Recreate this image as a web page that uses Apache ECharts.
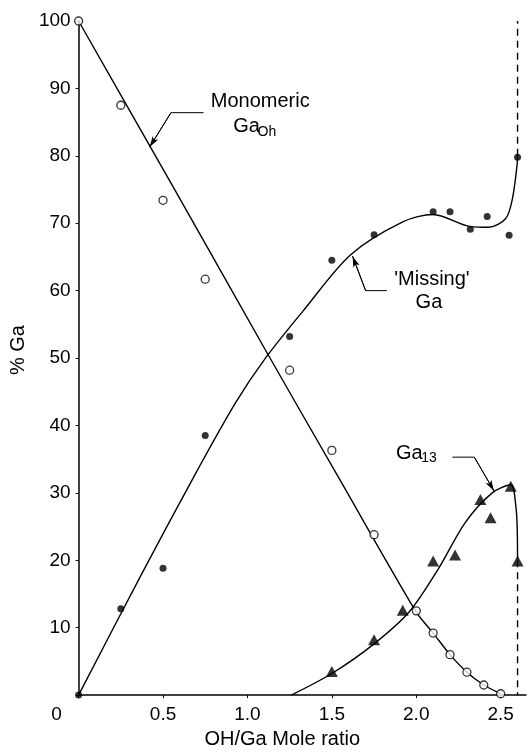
<!DOCTYPE html>
<html><head><meta charset="utf-8">
<script src="https://cdn.jsdelivr.net/npm/echarts@6/dist/echarts.min.js"></script>
<style>html,body{margin:0;padding:0;background:#fff}#c{width:528px;height:754px}</style>
</head><body><div id="c"></div>
<script>
// ---- data ----
const xTickValues = [0, 0.5, 1.0, 1.5, 2.0, 2.5];
const yTickValues = [10, 20, 30, 40, 50, 60, 70, 80, 90, 100];

// open circles: monomeric Ga(Oh)
const monomericPoints = [[0,100],[0.25,87.5],[0.5,73.4],[0.75,61.7],[1.25,48.2],[1.5,36.3],[1.75,23.8],[2.0,12.5],[2.1,9.2],[2.2,6.0],[2.3,3.4],[2.4,1.5],[2.5,0.2]];
// filled circles: 'missing' Ga
const missingPoints = [[0,0],[0.25,12.8],[0.5,18.8],[0.75,38.5],[1.25,53.2],[1.5,64.5],[1.75,68.3],[2.1,71.7],[2.2,71.7],[2.32,69.1],[2.42,71.0],[2.55,68.2],[2.6,79.8]];
// filled triangles: Ga13
const ga13Points = [[1.5,3.5],[1.75,8.2],[1.92,12.6],[2.1,19.9],[2.23,20.8],[2.38,29.0],[2.44,26.3],[2.56,31.0],[2.6,19.9]];

// drawn curves (read along the lines of the figure)
const monomericCurve = [[0,100],[0.56,75.4],[1.12,50.6],[1.56,31.4],[2.0,12.3],[2.1,9.2],[2.2,6.0],[2.3,3.4],[2.4,1.5],[2.5,0.2]];
const missingCurve = [[0,0],[0.37,17.8],[0.70,33.2],[0.93,43.4],[1.11,50.1],[1.33,57.0],[1.61,65.3],[1.92,70.2],[2.1,71.3],[2.32,69.5],[2.43,69.4],[2.53,70.7],[2.57,73.7],[2.597,78.6],[2.6,80]];
const ga13Curve = [[1.26,0],[1.5,3.2],[1.75,7.6],[1.96,12.4],[2.13,18.7],[2.29,25.6],[2.45,30.0],[2.56,31.2],[2.59,28.0],[2.598,24.6],[2.6,20.2]];
const dashedUpper = [[2.6,80],[2.6,100]];
const dashedLower = [[2.6,20],[2.6,0]];

// annotation leaders (end, elbow, arrow tip) in data units
const monomericLeader = [[0.740,86.4],[0.547,86.4],[0.421,81.3]];
const missingLeader = [[1.826,60.0],[1.700,60.0],[1.623,65.1]];
const ga13Leader = [[2.214,35.3],[2.344,35.3],[2.460,30.3]];

// ---- chart ----
const FONT = '"Liberation Sans", Arial, Helvetica, sans-serif';
const chart = echarts.init(document.getElementById('c'));

function leaderSeries(pts) {
  return {
    type: 'line', data: pts, symbol: 'none', silent: true, z: 4,
    lineStyle: { color: '#000', width: 1 },
    markLine: {
      silent: true, animation: false,
      label: { show: false },
      lineStyle: { color: '#000', width: 1, type: 'solid' },
      data: [[{ coord: pts[1], symbol: 'none' }, { coord: pts[2], symbol: 'arrow', symbolSize: [5, 11] }]]
    }
  };
}
const curveStyle = { color: '#000', width: 1.4 };

chart.setOption({
  animation: false,
  backgroundColor: '#fff',
  grid: { left: 69, right: 2, top: 21, bottom: 53 },
  xAxis: {
    type: 'value', min: 0, max: 2.65, interval: 0.5,
    name: 'OH/Ga Mole ratio', nameLocation: 'middle', nameGap: 33,
    nameTextStyle: { fontFamily: FONT, fontSize: 20, color: '#000', padding: [0, 40, 0, 0] },
    axisLine: { lineStyle: { color: '#000', width: 1.5 } },
    axisTick: { show: true, inside: false, length: 3, lineStyle: { color: '#000' } },
    splitLine: { show: false },
    axisLabel: {
      showMaxLabel: false, margin: 10, color: '#000', fontFamily: FONT, fontSize: 19,
      formatter: function (v) {
        if (v === 0) return '{z|0}';
        return xTickValues.some(t => Math.abs(t - v) < 1e-6) ? v.toFixed(1) : '';
      },
      rich: { z: { padding: [0, 44, 0, 0], fontFamily: FONT, fontSize: 19, color: '#000' } }
    }
  },
  yAxis: {
    type: 'value', min: 0, max: 100, interval: 10,
    name: '% Ga', nameLocation: 'middle', nameGap: 38,
    nameTextStyle: { fontFamily: FONT, fontSize: 20, color: '#000', padding: [0, 0, 0, 16] },
    axisLine: { show: true, lineStyle: { color: '#000', width: 1.5 } },
    axisTick: { show: true, inside: false, length: 3, lineStyle: { color: '#000' } },
    splitLine: { show: false },
    axisLabel: {
      margin: 8, color: '#000', fontFamily: FONT, fontSize: 19,
      formatter: v => (yTickValues.indexOf(v) >= 0 ? String(v) : '')
    }
  },
  series: [
    { name: 'Monomeric curve', type: 'line', data: monomericCurve, symbol: 'none', smooth: 0.25, lineStyle: curveStyle, z: 3 },
    { name: 'Missing curve', type: 'line', data: missingCurve, symbol: 'none', smooth: 0.3, lineStyle: curveStyle, z: 3 },
    { name: 'Ga13 curve', type: 'line', data: ga13Curve, symbol: 'none', smooth: 0.3, lineStyle: curveStyle, z: 3 },
    { name: 'dashed upper', type: 'line', data: dashedUpper, symbol: 'none', lineStyle: { color: '#000', width: 1.4, type: [7, 5] }, z: 3 },
    { name: 'dashed lower', type: 'line', data: dashedLower, symbol: 'none', lineStyle: { color: '#000', width: 1.4, type: [7, 5] }, z: 3 },
    { name: 'Monomeric GaOh', type: 'scatter', data: monomericPoints, symbol: 'circle', symbolSize: 8,
      itemStyle: { color: '#fff', borderColor: '#000', borderWidth: 1.3 }, z: 6 },
    { name: "'Missing' Ga", type: 'scatter', data: missingPoints, symbol: 'circle', symbolSize: 7,
      itemStyle: { color: '#000' }, z: 6 },
    { name: 'Ga13', type: 'scatter', data: ga13Points, symbol: 'triangle', symbolSize: [12, 11],
      itemStyle: { color: '#000' }, z: 6 },
    leaderSeries(monomericLeader),
    leaderSeries(missingLeader),
    leaderSeries(ga13Leader)
  ]
});

// annotation texts anchored in data units
const annotations = [
  { text: 'Monomeric', at: [0.783, 88.1], align: 'left', size: 20 },
  { text: 'Ga', at: [0.916, 84.3], align: 'left', size: 20 },
  { text: 'Oh', at: [1.06, 83.5], align: 'left', size: 14 },
  { text: "'Missing'", at: [2.093, 61.7], align: 'center', size: 20 },
  { text: 'Ga', at: [2.075, 58.2], align: 'center', size: 20 },
  { text: 'Ga', at: [1.88, 35.9], align: 'left', size: 20 },
  { text: '13', at: [2.03, 35.1], align: 'left', size: 14 }
];
chart.setOption({
  graphic: annotations.map(a => {
    const p = chart.convertToPixel({ gridIndex: 0 }, a.at);
    return {
      type: 'text', x: p[0], y: p[1], z: 10, silent: true,
      style: { text: a.text, fill: '#000', font: a.size + 'px ' + FONT, textAlign: a.align, textVerticalAlign: 'middle' }
    };
  })
});
</script>
</body></html>
